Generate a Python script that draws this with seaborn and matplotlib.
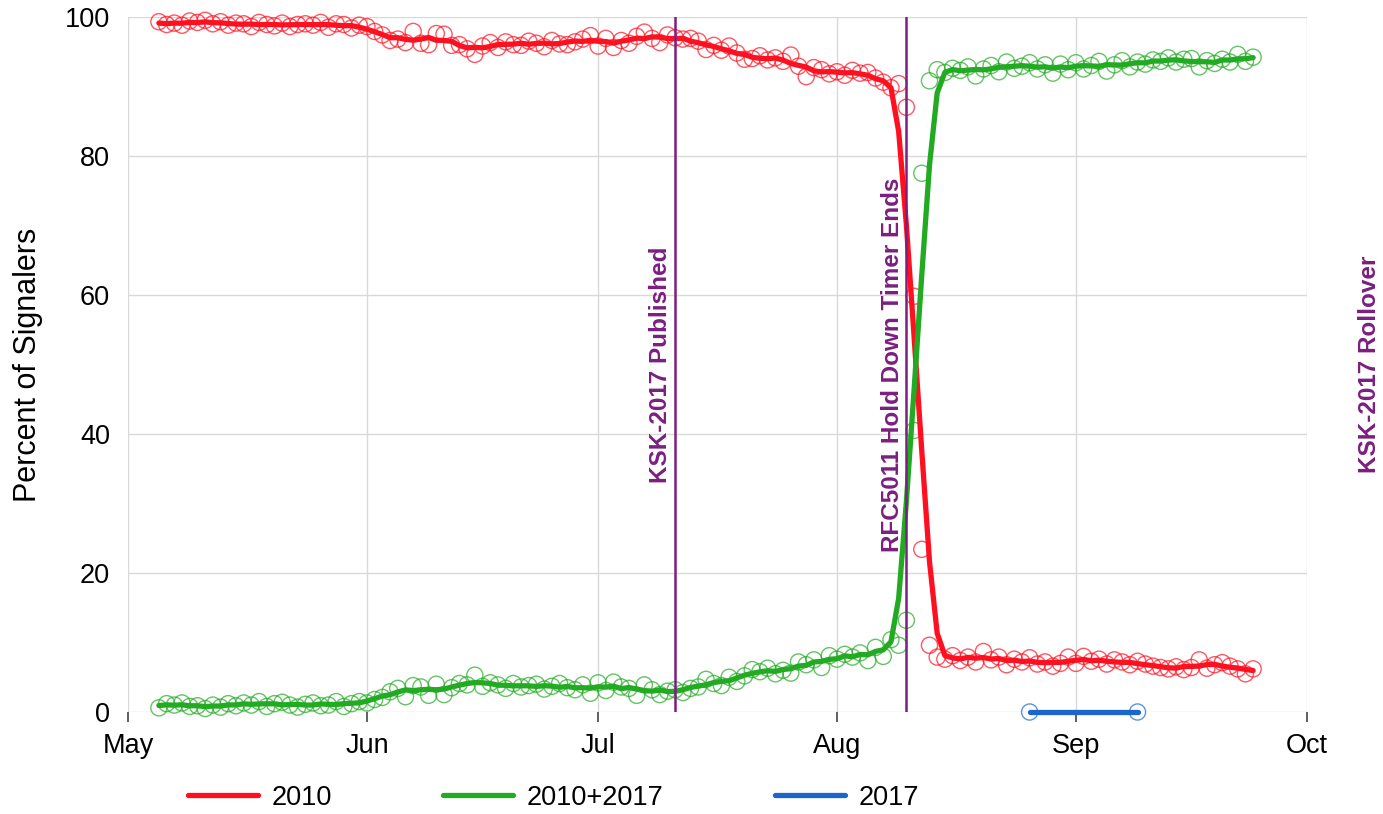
import pandas as pd
import matplotlib
matplotlib.use("Agg")
import matplotlib.pyplot as plt
import matplotlib.dates as mdates
import matplotlib.transforms as mtransforms
from matplotlib.lines import Line2D
import seaborn as sns

# daily share of signalers, 2017-05-05 .. 2017-09-24
start_day = "2017-05-05"
end_day = "2017-09-24"

red_may = [99.3, 98.9, 99.1, 98.8, 99.4, 99.2, 99.5, 99.0, 99.3, 98.8, 99.1, 99.0, 98.6, 99.2,
           98.9, 98.7, 99.1, 98.6, 98.9, 99.0, 98.8, 99.2, 98.5, 99.0, 98.9, 98.4, 98.8]
red_jun = [98.6, 97.9, 97.4, 96.6, 96.8, 96.3, 97.9, 96.2, 96.0, 97.6, 97.5, 95.9, 96.0, 95.4,
           94.6, 95.8, 96.3, 95.6, 96.4, 96.0, 95.9, 96.5, 96.2, 95.7, 96.6, 96.1, 96.0, 96.4,
           96.8, 97.3]
red_jul = [95.8, 96.9, 95.6, 96.6, 96.2, 97.2, 97.8, 96.9, 96.3, 97.4, 97.0, 96.8, 96.9, 96.5,
           95.3, 95.9, 95.2, 95.8, 94.8, 93.9, 94.0, 94.4, 93.8, 94.1, 93.6, 94.5, 92.9, 91.4,
           92.7, 92.4, 91.8]
red_aug = [92.1, 91.6, 92.3, 91.9, 92.0, 91.2, 90.6, 89.8, 90.4, 87.0, 59.8, 23.4, 9.6, 7.9,
           7.6, 8.1, 7.4, 7.9, 7.2, 8.7, 7.5, 7.9, 6.8, 7.6, 7.2, 7.8, 6.9, 7.2, 6.6, 7.0, 7.9]
red_sep = [7.0, 8.0, 7.3, 7.6, 6.9, 7.5, 7.2, 6.8, 7.3, 6.9, 6.6, 6.4, 6.2, 6.5, 6.1, 6.4,
           7.5, 6.3, 6.8, 7.1, 6.6, 6.2, 5.5, 6.2]

green_may = [0.6, 1.2, 1.0, 1.3, 0.8, 0.9, 0.5, 1.0, 0.7, 1.2, 0.9, 1.3, 1.0, 1.5, 0.8, 1.2,
             1.4, 1.0, 0.7, 1.1, 1.3, 0.9, 1.0, 1.5, 0.8, 1.2, 1.5]
green_jun = [1.3, 1.8, 2.1, 2.9, 3.4, 2.2, 3.8, 3.6, 2.4, 4.0, 2.5, 3.5, 4.1, 3.9, 5.3, 3.7,
             4.2, 3.9, 3.4, 4.1, 3.6, 3.8, 4.0, 3.3, 3.7, 4.1, 3.5, 3.2, 3.9, 2.7]
green_jul = [4.2, 3.1, 4.3, 3.6, 3.4, 2.4, 3.9, 3.2, 2.5, 3.0, 3.2, 2.8, 3.4, 3.6, 4.7, 4.1,
             3.8, 5.0, 4.4, 5.2, 6.1, 5.8, 6.3, 5.5, 6.0, 5.6, 7.2, 6.8, 7.5, 6.4, 8.1]
green_aug = [7.6, 8.3, 7.9, 8.5, 7.4, 9.3, 8.0, 10.4, 9.6, 13.2, 40.5, 77.5, 90.8, 92.4, 92.0,
             92.6, 92.3, 92.8, 91.5, 92.5, 93.0, 92.1, 93.5, 92.6, 92.9, 93.4, 92.5, 93.1, 91.9,
             93.2, 92.4]
green_sep = [93.4, 92.5, 93.0, 93.6, 92.2, 93.1, 93.7, 92.8, 93.5, 93.2, 93.8, 93.6, 94.1, 93.5,
             93.9, 94.0, 92.8, 93.7, 93.3, 93.9, 93.5, 94.6, 93.6, 94.2]

days_2017 = ["2017-08-26", "2017-09-09"]
pct_2017 = [0.0, 0.0]

event_days = ["2017-07-11", "2017-08-10", "2017-10-11"]
event_labels = ["KSK-2017 Published", "RFC5011 Hold Down Timer Ends", "KSK-2017 Rollover"]

series_names = ["2010", "2010+2017", "2017"]
colors = {"2010": "#ff1020", "2010+2017": "#22aa22", "2017": "#1a66cc"}
purple = "#7b1f80"

pct_2010 = red_may + red_jun + red_jul + red_aug + red_sep
pct_both = green_may + green_jun + green_jul + green_aug + green_sep

days = pd.date_range(start_day, end_day, freq="D")
df = pd.DataFrame({"day": days, "2010": pct_2010, "2010+2017": pct_both})
long = df.melt(id_vars="day", var_name="series", value_name="pct")
df17 = pd.DataFrame({"day": pd.to_datetime(days_2017), "series": "2017", "pct": pct_2017})
long = pd.concat([long, df17], ignore_index=True)
# smoothed trend line (5 day centred mean)
long["smooth"] = long.groupby("series")["pct"].transform(
    lambda s: s.rolling(5, center=True, min_periods=1).mean())

sns.set_style("whitegrid", {"grid.color": "#d9d9d9"})
plt.rcParams["font.family"] = ["Liberation Sans", "DejaVu Sans"]
plt.rcParams["text.color"] = "black"
plt.rcParams["axes.labelcolor"] = "black"
plt.rcParams["xtick.color"] = "black"
plt.rcParams["ytick.color"] = "black"

fig = plt.figure(figsize=(13.83, 8.14), dpi=100)
ax = fig.add_axes([0.0926, 0.1253, 0.8525, 0.854])

for name in series_names:
    sub = long[long["series"] == name]
    sns.scatterplot(data=sub, x="day", y="pct", ax=ax, marker="o", s=135, color=colors[name],
                    facecolor="none", edgecolor=colors[name], linewidth=1.0, alpha=0.7,
                    zorder=3, clip_on=False)
    sns.lineplot(data=sub, x="day", y="smooth", ax=ax, color=colors[name], lw=3.8,
                 legend=False, zorder=4, clip_on=False)

shift = mtransforms.ScaledTranslation(-2 / 72, 0, fig.dpi_scale_trans)
for d, lab in zip(event_days, event_labels):
    xd = mdates.date2num(pd.Timestamp(d))
    if xd < mdates.date2num(pd.Timestamp("2017-10-01")):
        ax.axvline(xd, color=purple, lw=1.8, zorder=5)
    ax.text(xd, 50, lab, rotation=90, ha="right", va="center", color=purple,
            fontsize=17.5, fontweight="bold", transform=ax.transData + shift, clip_on=False)

ax.set_xlim(pd.Timestamp("2017-05-01"), pd.Timestamp("2017-10-01"))
ax.set_ylim(0, 100)
ax.set_yticks([0, 20, 40, 60, 80, 100])
ax.xaxis.set_major_locator(mdates.MonthLocator())
ax.xaxis.set_major_formatter(mdates.DateFormatter("%b"))
ax.tick_params(axis="x", length=7, width=1.2, color="#444444", labelcolor="black", pad=8,
               labelsize=19.5, bottom=True, direction="out")
ax.tick_params(axis="y", length=0, pad=13, labelsize=19.5, labelcolor="black")
for sp in ax.spines.values():
    sp.set_visible(False)
ax.grid(True, color="#d9d9d9", lw=1)
ax.set_xlabel("")
ax.set_ylabel("Percent of Signalers", fontsize=22, labelpad=16, color="black")

handles = [Line2D([], [], color=colors[n], lw=3.8) for n in series_names]
fig.legend(handles, series_names, loc="center left", bbox_to_anchor=(0.118, 0.02), ncol=3,
           frameon=False, fontsize=19.5, handlelength=2.6, columnspacing=4.1, handletextpad=0.5)

fig.savefig("out.png", dpi=100)
